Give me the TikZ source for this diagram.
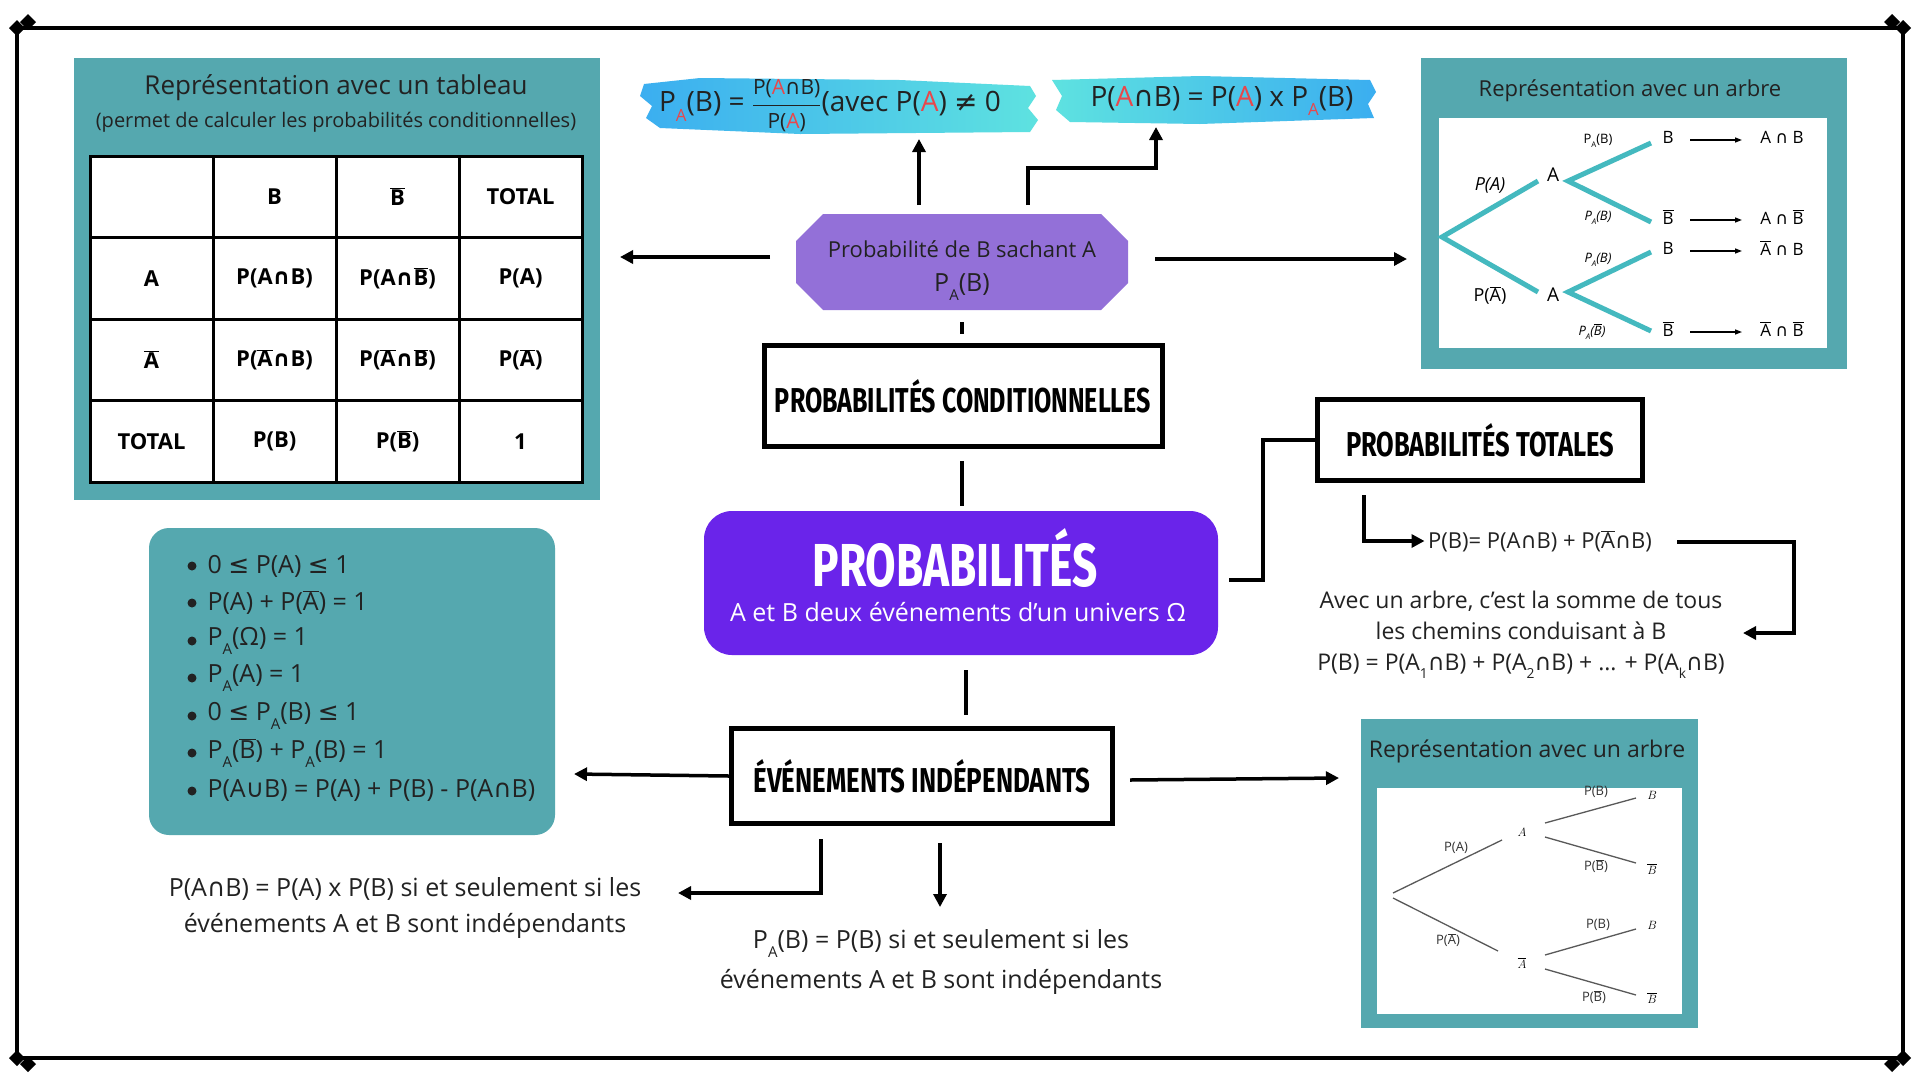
\documentclass[tikz,border=0pt]{standalone}
\usepackage{fontspec}
\setmainfont{Open Sans}
\newfontfamily\dejavu{DejaVu Sans}
\newfontfamily\fira{Fira Sans}
\usetikzlibrary{arrows.meta}
\definecolor{teal1}{HTML}{55A8AF}
\definecolor{purpL}{HTML}{9370D8}
\definecolor{purpM}{HTML}{6A24EA}
\definecolor{redA}{HTML}{E8474B}
\definecolor{blueB}{HTML}{3BAEF0}
\definecolor{cyanB}{HTML}{5EE2E0}
\definecolor{txt}{HTML}{222222}
\newcommand\fs[1]{\fontsize{#1}{#1}\selectfont}
\newcommand\inter{{\dejavu ∩}}
\newcommand\ob[1]{$\overline{\hbox{#1}}$}
\newcommand\sbs[1]{\raisebox{-0.35em}{\scalebox{0.6}{#1}}}
\newcommand\ra{{\color{redA}A}}
\newcommand\bigtitle[3]{\resizebox{#1}{#2}{\fira\bfseries #3}}
\begin{document}
\begin{tikzpicture}[x=1pt,y=-1pt,
  arr/.style={line width=3.5pt,-{Triangle[length=13pt,width=13pt]}},
  lin/.style={line width=3.5pt},
  cell/.style={draw,line width=3pt,fill=white,minimum width=123pt,minimum height=81.5pt,font=\fs{22}\bfseries},
  titlebox/.style={draw,line width=5pt,fill=white,inner sep=0pt},
  tealbox/.style={fill=teal1},
  br/.style={teal1!80!cyan,line width=5pt},
  gl/.style={gray!70!black,line width=1.3pt},
  sm/.style={font=\fs{13},text=gray!40!black},
  bul/.style={font=\fs{25},text=txt,anchor=west}]
\useasboundingbox (0,0) rectangle (1919,1080);
\fill[white] (0,0) rectangle (1919,1080);
% frame
\draw[line width=4pt] (17,28) rectangle (1903,1058);
\foreach \p in {(17,28),(1903,28),(17,1058),(1903,1058),(28,22),(1892,22),(28,1064),(1892,1064)}
  \fill \p ++(-8,0) -- ++(8,-8) -- ++(8,8) -- ++(-8,8) -- cycle;
% ---- left table
\fill[tealbox] (74,58) rectangle (600,500);
\node[font=\fs{26},text=txt] (tabt) at (336,88) {Représentation avec un tableau};
\node[font=\fs{20},text=txt] (tabs) at (336,122) {(permet de calculer les probabilités conditionnelles)};
\node[cell] (c11) at (151.5,196.75) {};
\node[cell] (c12) at (274.5,196.75) {B};
\node[cell] (c13) at (397.5,196.75) {\ob{B}};
\node[cell] (c14) at (520.5,196.75) {TOTAL};
\node[cell] (c21) at (151.5,278.25) {A};
\node[cell] (c22) at (274.5,278.25) {P(A\inter B)};
\node[cell] (c23) at (397.5,278.25) {P(A\inter\ob{B})};
\node[cell] (c24) at (520.5,278.25) {P(A)};
\node[cell] (c31) at (151.5,359.75) {\ob{A}};
\node[cell] (c32) at (274.5,359.75) {P(\ob{A}\inter B)};
\node[cell] (c33) at (397.5,359.75) {P(\ob{A}\inter\ob{B})};
\node[cell] (c34) at (520.5,359.75) {P(\ob{A})};
\node[cell] (c41) at (151.5,441.25) {TOTAL};
\node[cell] (c42) at (274.5,441.25) {P(B)};
\node[cell] (c43) at (397.5,441.25) {P(\ob{B})};
\node[cell] (c44) at (520.5,441.25) {1};
% ---- brushes
\shade[left color=blueB,right color=cyanB] (644,84) -- (700,78) -- (900,80) -- (1030,86) -- (1036,96) -- (1028,108) -- (1038,120) -- (1030,132) -- (800,134) -- (660,128) -- (646,118) -- (652,106) -- (640,96) -- cycle;
\node[font=\fs{28},text=txt] (f1) at (830,106) {P\sbs{\ra}(B) = $\displaystyle\frac{\hbox{\fs{21}P(\ra\inter B)}}{\hbox{\fs{21}P(\ra)}}$(avec P(\ra) {\dejavu ≠} 0};
\shade[left color=cyanB,right color=blueB] (1052,80) -- (1200,76) -- (1370,80) -- (1376,92) -- (1368,104) -- (1374,118) -- (1200,124) -- (1070,122) -- (1056,110) -- (1062,96) -- cycle;
\node[font=\fs{28},text=txt] (f2) at (1222,101) {P(\ra\inter B) = P(\ra) x P\sbs{\ra}(B)};
% ---- octagon
\fill[purpL] (823,214) -- (1101,214) -- (1128,241) -- (1128,283) -- (1101,310) -- (823,310) -- (796,283) -- (796,241) -- cycle;
\node[font=\fs{22},text=txt] (oct1) at (962,249) {Probabilité de B sachant A};
\node[font=\fs{25},text=txt] (oct2) at (962,287) {P\sbs{A}(B)};
\coordinate (u1) at (919,205); \coordinate (u2) at (1028,205);
\draw[arr] (u1) -- (919,139);
\draw[arr] (u2) |- (1156,168) -- (1156,127);
\coordinate (ol) at (770,257); \coordinate (or) at (1155,259);
\draw[arr] (ol) -- (620,257);
\draw[arr] (or) -- (1407,259);
% ---- top-right tree
\fill[tealbox] (1421,58) rectangle (1847,369);
\node[font=\fs{22},text=txt] (tr) at (1630,91) {Représentation avec un arbre};
\fill[white] (1439,118) rectangle (1827,348);
\coordinate (r0) at (1442,237);
\coordinate (ra1) at (1538,181); \coordinate (ra2) at (1538,292);
\draw[br] (ra1) -- (r0) -- (ra2);
\draw[br] (1651,143) -- (1568,181) -- (1651,222);
\draw[br] (1651,252) -- (1568,292) -- (1651,331);
\node[font=\fs{18}\itshape] at (1490,185) {P(A)};
\node[font=\fs{18}] at (1490,295) {P(\ob{A})};
\node[font=\fs{19}] at (1553,175) {A};
\node[font=\fs{19}] at (1553,295) {A};
\foreach \y/\l/\r in {137/B/A \inter{} B, 217/\ob{B}/A \inter{} \ob{B}, 248/B/\ob{A} \inter{} B, 329/\ob{B}/\ob{A} \inter{} \ob{B}}{
  \node[font=\fs{17}] (tb\y) at (1668,\y) {\l};
  \node[font=\fs{17}] (tr\y) at (1782,\y) {\r};
  \draw[line width=1.3pt,-{Triangle[length=7pt,width=5pt]}] (1690,\y+3) -- (1742,\y+3);
}
\node[font=\fs{13}] at (1598,141) {P\sbs{A}(B)};
\node[font=\fs{13}\itshape] at (1598,218) {P\sbs{A}(B)};
\node[font=\fs{13}\itshape] at (1598,260) {P\sbs{A}(B)};
\node[font=\fs{13}\itshape] at (1592,332) {P\sbs{A}(\ob{B})};
% ---- titles
\node[titlebox,minimum width=398pt,minimum height=101pt] (pc) at (963,396) {\bigtitle{376pt}{33pt}{PROBABILITÉS CONDITIONNELLES}};
\draw[lin] (962,322) -- (962,334);
\draw[lin] (962,461) -- (962,506);
\node[fill=purpM,rounded corners=28pt,minimum width=514pt,minimum height=144pt] (main) at (961,583) {};
\node[text=white] (mt) at (955,558) {\bigtitle{285pt}{58pt}{PROBABILITÉS}};
\node[font=\fs{25},text=white] (ms) at (958,612) {A et B deux événements d'un univers Ω};
\node[titlebox,minimum width=325pt,minimum height=81pt] (pt) at (1480,440) {\bigtitle{268pt}{33pt}{PROBABILITÉS TOTALES}};
\draw[lin] (1229,580) -- (1263,580) |- (pt.west);
\coordinate (pa) at (1364,495);
\node[font=\fs{22},text=txt] (pb) at (1540,541) {P(B)= P(A\inter B) + P(\ob{A}\inter B)};
\draw[arr] (pa) |- (pb.west);
\coordinate (pe) at (1677,542); \coordinate (pe2) at (1743,633);
\draw[arr] (pe) -- (1794,542) |- (pe2);
\node[font=\fs{23},text=txt,align=center] (pt1) at (1521,615) {Avec un arbre, c'est la somme de tous\\[8pt]les chemins conduisant à B};
\node[font=\fs{23},text=txt] (pt2) at (1521,666) {P(B) = P(A\sbs{1}\inter B) + P(A\sbs{2}\inter B) + ... + P(A\sbs{k}\inter B)};
% ---- bullets
\fill[tealbox,rounded corners=20pt] (149,528) rectangle (555,835);
\foreach \y/\t in {566/0 {\dejavu ≤} P(A) {\dejavu ≤} 1, 603/P(A) + P(\ob{A}) = 1, 641/P\sbs{A}(Ω) = 1, 678/P\sbs{A}(A) = 1, 716/0 {\dejavu ≤} P\sbs{A}(B) {\dejavu ≤} 1, 753/P\sbs{A}(\ob{B}) + P\sbs{A}(B) = 1, 791/P(A{\dejavu ∪}B) = P(A) + P(B) - P(A\inter B)}{
  \fill[txt] (192,\y) circle (4.5pt);
  \node[bul] (b\y) at (204,\y) {\t};
}
% ---- independants
\draw[lin] (966,670) -- (966,715);
\node[titlebox,minimum width=381pt,minimum height=95pt] (ei) at (922,776) {\bigtitle{337pt}{33pt}{ÉVÉNEMENTS INDÉPENDANTS}};
\draw[arr] (ei.west) -- (574,774);
\coordinate (eir) at (1130,780);
\draw[arr] (eir) -- (1339,778);
\node[font=\fs{25},text=txt,align=center] (i1) at (405,908) {P(A\inter B) = P(A) x P(B) si et seulement si les\\[11pt]événements A et B sont indépendants};
\node[font=\fs{25},text=txt,align=center] (i2) at (941,962) {P\sbs{A}(B) = P(B) si et seulement si les\\[11pt]événements A et B sont indépendants};
\coordinate (e1) at (821,839); \coordinate (e2) at (940,843);
\draw[arr] (e1) -- (821,893) -- (678,893);
\draw[arr] (e2) -- (940,907);
% ---- bottom-right tree
\fill[tealbox] (1361,719) rectangle (1698,1028);
\node[font=\fs{23},text=txt] (brt) at (1527,751) {Représentation avec un arbre};
\fill[white] (1377,788) rectangle (1682,1014);
\draw[gl] (1502,840) -- (1393,893);
\draw[gl] (1393,898) -- (1498,951);
\draw[gl] (1545,823) -- (1636,798);
\draw[gl] (1545,837) -- (1636,863);
\draw[gl] (1545,955) -- (1636,929);
\draw[gl] (1545,969) -- (1636,995);
\node[font=\fs{13}\itshape] at (1522,832) {$A$};
\node[font=\fs{13}] at (1522,963) {$\overline{A}$};
\foreach \y/\l in {795/$B$,869/$\overline{B}$,925/$B$,998/$\overline{B}$} \node[font=\fs{13}] at (1652,\y) {\l};
\node[sm] at (1456,848) {P(A)};
\node[sm] at (1448,940) {P(\ob{A})};
\node[sm] at (1596,792) {P(B)};
\node[sm] at (1596,866) {P(\ob{B})};
\node[sm] at (1598,925) {P(B)};
\node[sm] at (1594,997) {P(\ob{B})};
\end{tikzpicture}
\end{document}
